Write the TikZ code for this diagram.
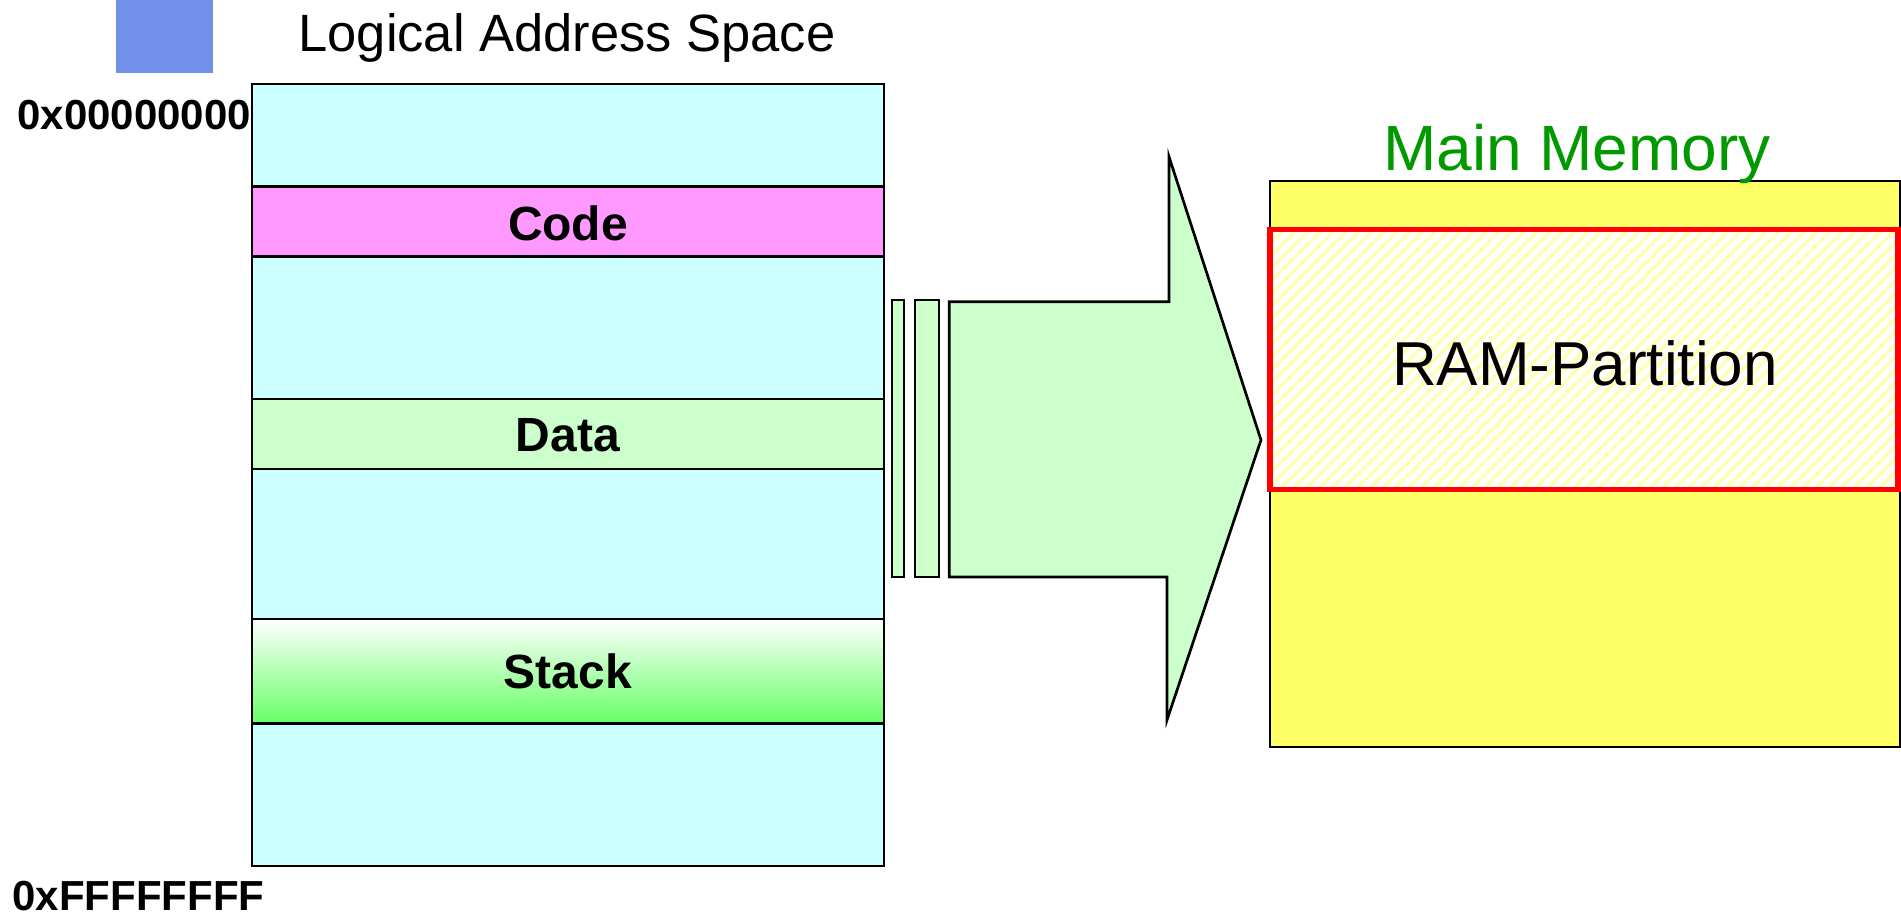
\documentclass[tikz,border=0pt]{standalone}
\usepackage{fontspec}
\setmainfont{Liberation Sans}
\usetikzlibrary{patterns.meta}
\definecolor{cyanfill}{RGB}{204,255,255}
\definecolor{codefill}{RGB}{255,153,255}
\definecolor{datafill}{RGB}{204,255,204}
\definecolor{stackbot}{RGB}{102,255,102}
\definecolor{stackmid}{RGB}{200,255,200}
\definecolor{memfill}{RGB}{255,255,102}
\definecolor{bluesq}{RGB}{113,144,233}
\definecolor{mmgreen}{RGB}{0,153,0}
\definecolor{stripe}{RGB}{255,255,175}
\begin{document}
\begin{tikzpicture}[x=0.5pt,y=-0.5pt,
  outline/.style={draw=black,line width=1.35pt},
  lbl/.style={inner sep=0pt,anchor=base},
  bandlbl/.style={lbl,font=\fontsize{24}{28}\selectfont\bfseries},
  addrlbl/.style={inner sep=0pt,anchor=base west,font=\fontsize{21}{25}\selectfont\bfseries},
  greenfill/.style={fill=datafill,outline,line join=miter}]
\useasboundingbox (0,0) rectangle (1901,916);

% blue square
\fill[bluesq] (116,0) rectangle (213,73);

% logical address space box
\filldraw[fill=cyanfill,outline] (252,84) rectangle (884,866);
\filldraw[fill=codefill,outline] (252,186.7) rectangle (884,256.7);
\filldraw[fill=datafill,outline] (252,399) rectangle (884,469);
\shade[top color=white,middle color=stackmid,bottom color=stackbot] (252,619) rectangle (884,723.5);
\draw[outline] (252,619) rectangle (884,723.5);

% labels
\node[lbl,font=\fontsize{26.25}{30}\selectfont] (title) at (567,51) {Logical Address Space};
\node[bandlbl] (code) at (568,240) {Code};
\node[bandlbl] (data) at (568,451.7) {Data};
\node[bandlbl] (stack) at (568,688) {Stack};
\node[addrlbl] (addrlow) at (17,129.5) {0x00000000};
\node[addrlbl] (addrhigh) at (12,910) {0xFFFFFFFF};

% bars and big arrow
\filldraw[greenfill] (892,300) rectangle (904,577);
\filldraw[greenfill] (915,300) rectangle (939,577);
\filldraw[greenfill] (949.3,301.7) -- (1169,301.7) -- (1169,156.7) -- (1261,440)
   -- (1167,720) -- (1167,577) -- (949.3,577) -- cycle;

% main memory
\filldraw[fill=memfill,draw=black,line width=1pt] (1270,181) rectangle (1900,747);
\fill[white] (1270,229.5) rectangle (1898,489.5);
\fill[pattern={Lines[angle=45,distance=4.5pt,line width=1.6pt]},pattern color=stripe] (1270,229.5) rectangle (1898,489.5);
\draw[red,line width=2.6pt] (1270,229.5) rectangle (1898,489.5);
\node[lbl,font=\fontsize{32}{36}\selectfont,text=mmgreen] (mmtitle) at (1577,170) {Main Memory};
\node[lbl,font=\fontsize{31}{36}\selectfont] (ramlbl) at (1585,385) {RAM-Partition};
\end{tikzpicture}
\end{document}
